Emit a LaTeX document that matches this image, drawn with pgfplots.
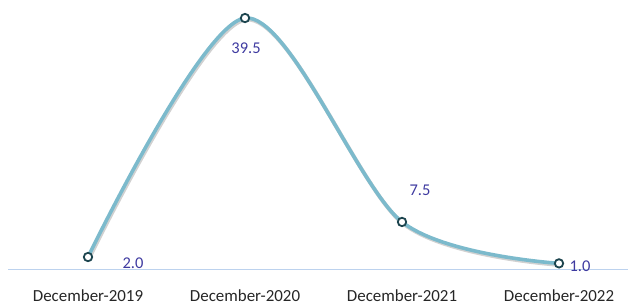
\documentclass[border=0pt]{standalone}
\usepackage{fontspec}
\setmainfont{Carlito}
\usepackage{pgfplots}
\pgfplotsset{compat=1.18}
\definecolor{lblue}{RGB}{124,186,204}
\definecolor{mk}{RGB}{28,68,78}
\definecolor{lab}{RGB}{62,58,160}
\definecolor{axl}{RGB}{188,210,238}
\begin{document}
\begin{tikzpicture}[x=1bp,y=1bp]
\useasboundingbox (0,0) rectangle (630,306);
\begin{axis}[
  at={(8bp,36.25bp)}, anchor=south west,
  scale only axis, width=620bp, height=269.75bp,
  xmin=-0.5096, xmax=3.4395, ymin=0, ymax=42.33,
  axis x line=bottom, axis y line=none,
  x axis line style={draw=axl, line width=1.4bp, -},
  xtick={0,1,2,3},
  xticklabels={December-2019,December-2020,December-2021,December-2022},
  major tick length=0pt,
  xticklabel style={anchor=base, yshift=-32bp, font=\fontsize{17}{19}\selectfont, text=black!85},
  clip=false,
]
\addplot[smooth, line width=4bp, color=black!30, opacity=0.6, shift={(1bp,-1.5bp)}, forget plot]
  coordinates {(0,2.0) (1,39.5) (2,7.5) (3,1.0)};
\addplot[smooth, line width=3.6bp, color=lblue, mark=*, mark size=4.2bp,
  mark options={fill=white, draw=mk, line width=1.8bp}]
  coordinates {(0,2.0) (1,39.5) (2,7.5) (3,1.0)};
\begin{scope}[every node/.style={text=lab, font=\fontsize{16.5}{19}\selectfont}]
\node at (axis cs:0,2.0) [xshift=45bp, yshift=-6bp] {2.0};
\node at (axis cs:1,39.5) [xshift=1bp, yshift=-30bp] {39.5};
\node at (axis cs:2,7.5) [xshift=18bp, yshift=32bp] {7.5};
\node at (axis cs:3,1.0) [xshift=21bp, yshift=-3bp] {1.0};
\end{scope}
\end{axis}
\end{tikzpicture}
\end{document}
